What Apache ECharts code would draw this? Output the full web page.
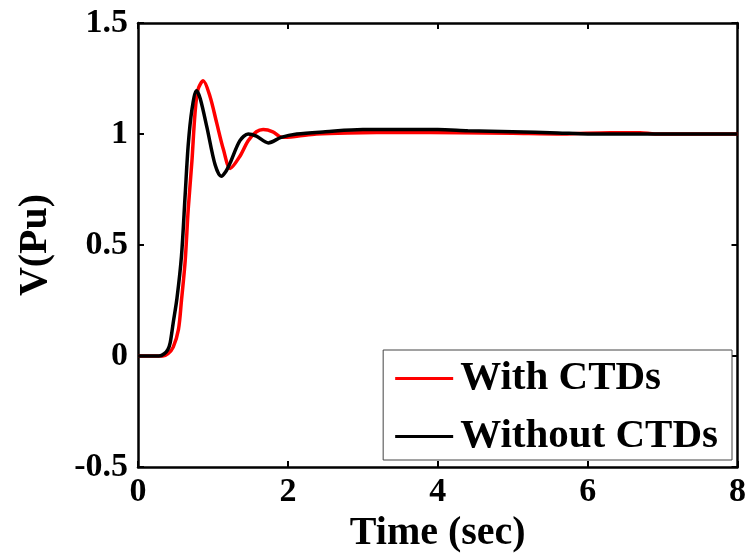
<!DOCTYPE html>
<html>
<head>
<meta charset="utf-8">
<script src="https://cdn.jsdelivr.net/npm/echarts@6/dist/echarts.min.js"></script>
<style>
html,body{margin:0;padding:0;background:#fff;}
#chart{width:749px;height:559px;}
</style>
</head>
<body>
<div id="chart"></div>
<script>
// Data
const xTicks = [0, 2, 4, 6, 8];
const yTicks = [-0.5, 0, 0.5, 1, 1.5];

const tWith = [0, 0.33, 0.40, 0.47, 0.54, 0.58, 0.63, 0.67, 0.72, 0.76, 0.80, 0.87, 0.96, 1.05, 1.14, 1.23, 1.36, 1.47, 1.58, 1.67, 1.80, 1.92, 2.12, 2.38, 2.8, 3.5, 4.3, 5.0, 5.67, 6.3, 6.7, 6.9, 8.0];
const vWith = [0, 0, 0.01, 0.04, 0.12, 0.25, 0.43, 0.66, 0.88, 1.09, 1.20, 1.24, 1.17, 1.05, 0.93, 0.845, 0.90, 0.97, 1.01, 1.02, 1.01, 0.985, 0.99, 1.0, 1.005, 1.008, 1.006, 1.003, 1.0, 1.006, 1.006, 1.0, 1.0];

const tWithout = [0, 0.28, 0.35, 0.40, 0.43, 0.47, 0.52, 0.58, 0.63, 0.67, 0.72, 0.78, 0.83, 0.92, 1.03, 1.11, 1.17, 1.23, 1.36, 1.47, 1.58, 1.74, 1.91, 2.12, 2.5, 3.0, 3.5, 4.0, 4.4, 5.0, 5.6, 6.0, 7.0, 8.0];
const vWithout = [0, 0, 0.01, 0.03, 0.06, 0.15, 0.26, 0.45, 0.73, 0.95, 1.11, 1.195, 1.16, 1.03, 0.86, 0.81, 0.83, 0.87, 0.97, 1.0, 0.99, 0.96, 0.985, 1.0, 1.01, 1.02, 1.02, 1.02, 1.015, 1.01, 1.005, 1.0, 1.0, 1.0];

const seriesNames = ['With CTDs', 'Without CTDs'];

const zip = (a, b) => a.map((x, i) => [x, b[i]]);
const FONT = 'Liberation Serif';

const chart = echarts.init(document.getElementById('chart'));
const tickLabel = {fontFamily: FONT, fontWeight: 'bold', fontSize: 34, color: '#000'};
const axisLine = {show: true, onZero: false, lineStyle: {color: '#000', width: 2.5}};
const axisTick = {show: true, inside: true, length: 6, lineStyle: {color: '#000', width: 2}};

chart.setOption({
  animation: false,
  backgroundColor: '#fff',
  grid: {left: 138, right: 11, top: 23, bottom: 92, containLabel: false},
  legend: {
    data: seriesNames,
    orient: 'vertical',
    right: 17,
    top: 350,
    backgroundColor: '#fff',
    borderColor: '#444',
    borderWidth: 1,
    borderRadius: 0,
    padding: [8, 14, 3, 12],
    itemGap: 17,
    itemWidth: 58,
    itemHeight: 3,
    icon: 'rect',
    textStyle: {fontFamily: FONT, fontWeight: 'bold', fontSize: 41, color: '#000', lineHeight: 40, padding: [0, 0, 0, 2]}
  },
  xAxis: [{
    type: 'value', min: xTicks[0], max: xTicks[xTicks.length - 1], interval: 2,
    name: 'Time (sec)', nameLocation: 'middle', nameGap: 46,
    nameTextStyle: {fontFamily: FONT, fontWeight: 'bold', fontSize: 40, color: '#000'},
    axisLine: axisLine, axisTick: axisTick,
    axisLabel: Object.assign({margin: 8}, tickLabel),
    splitLine: {show: false}
  }, {
    type: 'value', position: 'top', min: xTicks[0], max: xTicks[xTicks.length - 1], interval: 2,
    axisLine: axisLine, axisTick: axisTick, axisLabel: {show: false}, splitLine: {show: false}
  }],
  yAxis: [{
    type: 'value', min: yTicks[0], max: yTicks[yTicks.length - 1], interval: 0.5,
    name: 'V(Pu)', nameLocation: 'middle', nameGap: 82, nameRotate: 90,
    nameTextStyle: {fontFamily: FONT, fontWeight: 'bold', fontSize: 40, color: '#000'},
    axisLine: axisLine, axisTick: axisTick,
    axisLabel: Object.assign({margin: 10}, tickLabel),
    splitLine: {show: false}
  }, {
    type: 'value', position: 'right', min: yTicks[0], max: yTicks[yTicks.length - 1], interval: 0.5,
    axisLine: axisLine, axisTick: axisTick, axisLabel: {show: false}, splitLine: {show: false}
  }],
  series: [{
    name: seriesNames[0], type: 'line', data: zip(tWith, vWith),
    showSymbol: false, smooth: 0.3, z: 2,
    lineStyle: {color: '#ff0000', width: 3.5}, itemStyle: {color: '#ff0000'}
  }, {
    name: seriesNames[1], type: 'line', data: zip(tWithout, vWithout),
    showSymbol: false, smooth: 0.3, z: 3,
    lineStyle: {color: '#000000', width: 3.5}, itemStyle: {color: '#000000'}
  }]
});
</script>
</body>
</html>
